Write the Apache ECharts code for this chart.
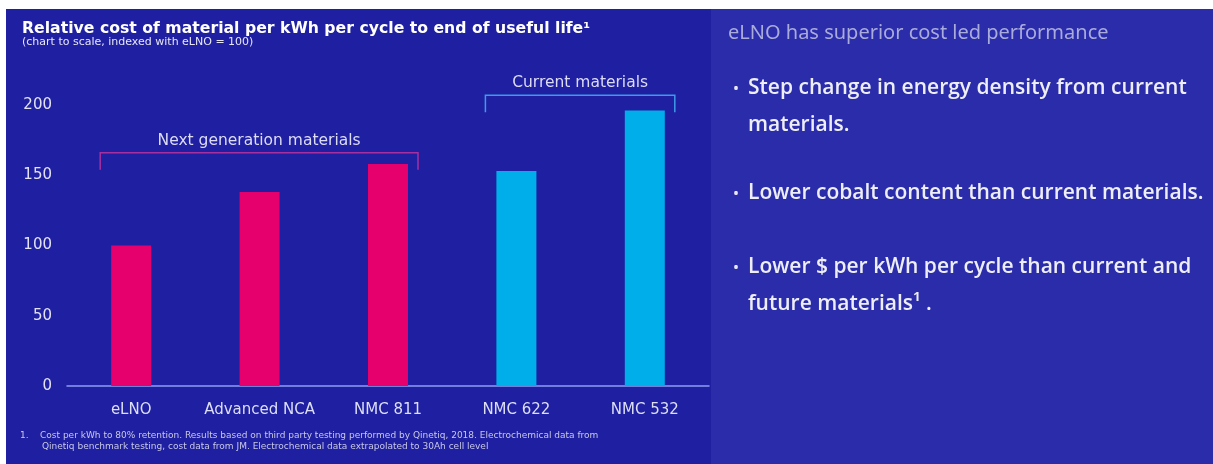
<!DOCTYPE html>
<html>
<head>
<meta charset="utf-8">
<script src="https://cdn.jsdelivr.net/npm/echarts@6/dist/echarts.min.js"></script>
<style>
  html, body { margin: 0; padding: 0; background: #ffffff; }
  #chart { width: 1213px; height: 464px; }
</style>
</head>
<body>
<div id="chart"></div>
<script>
// data
const categories = ['eLNO', 'Advanced NCA', 'NMC 811', 'NMC 622', 'NMC 532']
const costIndex = [100, 138, 158, 153, 196]
const materialGroup = ['next', 'next', 'next', 'current', 'current']
const yTicks = [0, 50, 100, 150, 200]
const groupNames = { next: 'Next generation materials', current: 'Current materials' }

const groupColor = { next: '#e5006d', current: '#00aeea' }
const bracketColor = { next: '#a8309e', current: '#3c9ce8' }
// bracket level (in index units) for each group
const bracketLevel = { next: 166, current: 207 }

const title = 'Relative cost of material per kWh per cycle to end of useful life\u00b9'
const subtitle = '(chart to scale, indexed with eLNO = 100)'
const footnote1 = '1.    Cost per kWh to 80% retention. Results based on third party testing performed by Qinetiq, 2018. Electrochemical data from'
const footnote2 = 'Qinetiq benchmark testing, cost data from JM. Electrochemical data extrapolated to 30Ah cell level'
const sideHeading = 'eLNO has superior cost led performance'
const bullets = [
  ['Step change in energy density from current', 'materials.'],
  ['Lower cobalt content than current materials.'],
  ['Lower $ per kWh per cycle than current and', 'future materials\u00b9 .']
]

const chart = echarts.init(document.getElementById('chart'))

const panelGraphics = [
  { type: 'rect', z: -10, shape: { x: 6, y: 9, width: 705, height: 455 }, style: { fill: '#1f1fa1' } },
  { type: 'rect', z: -10, shape: { x: 711, y: 9, width: 502, height: 455 }, style: { fill: '#2a2ca9' } },
  { type: 'text', left: 22, top: 21, style: { text: title, fill: '#ffffff', font: 'bold 15.7px "DejaVu Sans"' } },
  { type: 'text', left: 22, top: 37, style: { text: subtitle, fill: '#e6e6f5', font: '11px "DejaVu Sans"' } },
  { type: 'text', left: 20, top: 431, style: { text: footnote1, fill: '#c8c8e6', font: '9px "DejaVu Sans"' } },
  { type: 'text', left: 42, top: 442, style: { text: footnote2, fill: '#c8c8e6', font: '9px "DejaVu Sans"' } },
  { type: 'text', left: 728, top: 23, style: { text: sideHeading, fill: '#a9abda', font: '20px "Noto Sans"' } }
]

const bulletTops = [78, 183, 257]
bullets.forEach((lines, i) => {
  panelGraphics.push({ type: 'text', left: 733, top: bulletTops[i] + 3, style: { text: '\u2022', fill: '#e8e8f6', font: '16px "Noto Sans"' } })
  lines.forEach((line, j) => {
    panelGraphics.push({
      type: 'text', left: 748, top: bulletTops[i] + j * 37,
      style: { text: line, fill: '#eeeef8', font: '600 21px "Open Sans"' }
    })
  })
})

const option = {
  backgroundColor: '#ffffff',
  animation: false,
  grid: { left: 67, right: 504, top: 105, bottom: 78 },
  xAxis: {
    type: 'category',
    data: categories,
    axisLine: { lineStyle: { color: '#8e9ef2', width: 1.5 } },
    axisTick: { show: false },
    axisLabel: { interval: 0, color: '#dcdff6', fontSize: 15, fontFamily: 'DejaVu Sans', margin: 17 }
  },
  yAxis: {
    type: 'value',
    min: 0,
    max: 200,
    interval: 50,
    axisLine: { show: false },
    axisTick: { show: false },
    splitLine: { show: false },
    axisLabel: {
      color: '#e2e2f4', fontSize: 15, fontFamily: 'DejaVu Sans', margin: 15,
      formatter: (v) => (yTicks.includes(v) ? String(v) : '')
    }
  },
  series: [
    {
      type: 'bar',
      barWidth: 40,
      data: costIndex.map((v, i) => ({ value: v, itemStyle: { color: groupColor[materialGroup[i]] } }))
    }
  ],
  graphic: panelGraphics
}
chart.setOption(option)

// group brackets positioned from the axes
const bracketGraphics = []
Object.keys(groupNames).forEach((g) => {
  const idx = categories.map((c, i) => i).filter((i) => materialGroup[i] === g)
  const x0 = chart.convertToPixel({ xAxisIndex: 0 }, categories[idx[0]]) - 31
  const x1 = chart.convertToPixel({ xAxisIndex: 0 }, categories[idx[idx.length - 1]]) + 30
  const yTop = chart.convertToPixel({ yAxisIndex: 0 }, bracketLevel[g])
  const yEnd = yTop + 17
  bracketGraphics.push({
    type: 'polyline',
    shape: { points: [[x0, yEnd], [x0, yTop], [x1, yTop], [x1, yEnd]] },
    style: { stroke: bracketColor[g], lineWidth: 1.5, fill: null }
  })
  bracketGraphics.push({
    type: 'text',
    x: (x0 + x1) / 2,
    y: yTop - 12,
    style: { text: groupNames[g], fill: '#dcdcf4', font: '15.5px "DejaVu Sans"', align: 'center', verticalAlign: 'middle' }
  })
})
chart.setOption({ graphic: panelGraphics.concat(bracketGraphics) })
</script>
</body>
</html>
